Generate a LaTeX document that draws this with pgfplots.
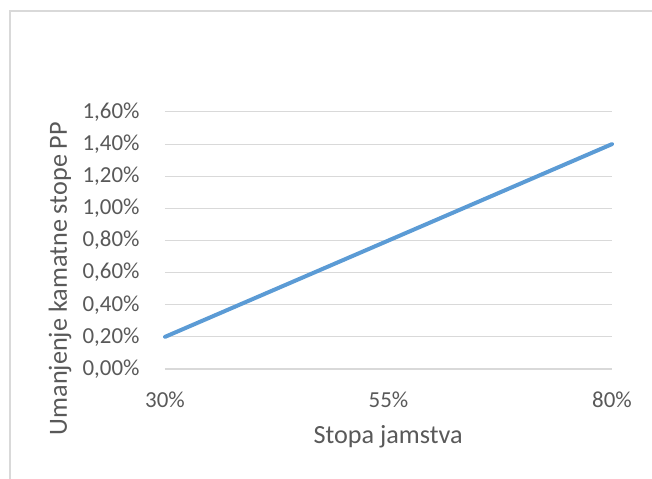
\documentclass[border=0pt]{standalone}
\usepackage{pgfplots}
\pgfplotsset{compat=1.18}
\usepackage{fontspec}
\setmainfont{Carlito}
\definecolor{txt}{HTML}{595959}
\definecolor{grd}{HTML}{D9D9D9}
\definecolor{ln}{HTML}{5B9BD5}
\begin{document}
\begin{tikzpicture}[x=1bp,y=1bp]
\path[use as bounding box] (-165,-110) rectangle (487,369);
\draw[grd, line width=1.3bp] (-155,-110) -- (-155,358) -- (487,358);
\begin{axis}[
  at={(0,0)}, anchor=south west,
  scale only axis, width=447bp, height=257bp,
  xmin=0, xmax=2, ymin=0, ymax=1.6,
  xtick={0,1,2}, xticklabels={30\%,55\%,80\%},
  ytick={0,0.2,0.4,0.6,0.8,1.0,1.2,1.4,1.6},
  yticklabels={{0,00\%},{0,20\%},{0,40\%},{0,60\%},{0,80\%},{1,00\%},{1,20\%},{1,40\%},{1,60\%}},
  axis line style={draw=none},
  tick style={draw=none},
  ymajorgrids, grid style={grd, line width=1bp},
  extra y ticks={0}, extra y tick labels={},
  extra y tick style={grid style={grd, line width=1.2bp}},
  ticklabel style={font=\fontsize{23}{27}\selectfont, text=txt},
  yticklabel style={anchor=east, xshift=-22bp},
  xticklabel style={anchor=center, yshift=-31bp},
  xlabel={Stopa jamstva},
  ylabel={Umanjenje kamatne stope PP},
  label style={font=\fontsize{26.3}{30}\selectfont, text=txt},
  xlabel style={at={(axis description cs:0.499,-0.265)}, anchor=center},
  ylabel style={at={(axis description cs:-0.235,0.352)}, anchor=center},
  clip=false,
]
\addplot[ln, line width=4bp, line cap=round] coordinates {(0,0.2) (1,0.8) (2,1.4)};
\end{axis}
\end{tikzpicture}
\end{document}
